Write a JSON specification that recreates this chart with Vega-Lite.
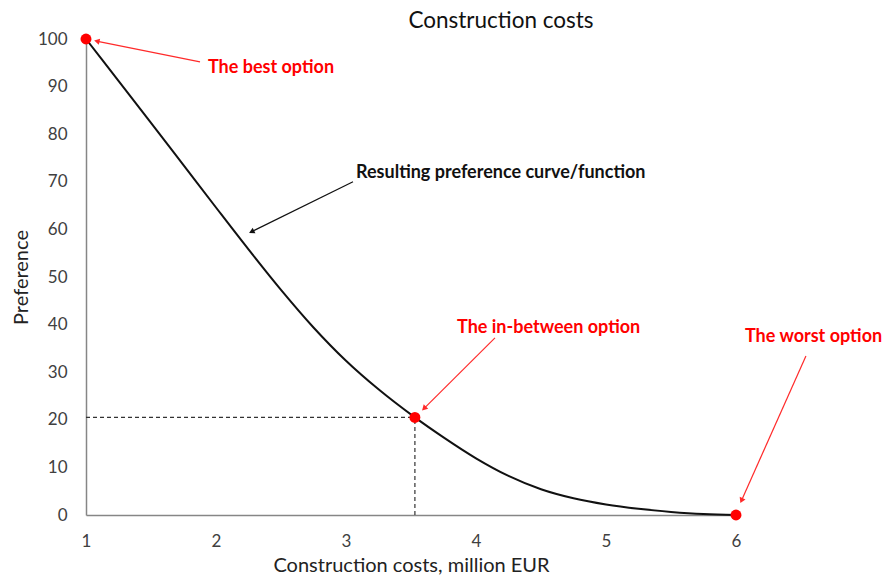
{
  "$schema": "https://vega.github.io/schema/vega-lite/v6.json",
  "autosize": "none",
  "width": 650,
  "height": 476,
  "padding": {"left": 86, "top": 39, "right": 151, "bottom": 64},
  "background": "white",
  "config": {
    "view": {"stroke": null},
    "font": "Lato",
    "axis": {"grid": false, "ticks": false, "domainColor": "#868686", "domainWidth": 1.5, "labelColor": "#404040", "labelFontSize": 17, "titleColor": "#222222", "titleFontSize": 20, "titleFontWeight": "normal", "labelFont": "Lato", "titleFont": "Lato", "labelFlush": false}
  },
  "title": {"text": "Construction costs", "fontSize": 22.5, "fontWeight": "normal", "color": "#111111", "anchor": "middle", "dx": 90, "offset": -2, "font": "Lato"},
  "datasets": {
    "curve": [
      {"cost": 1.0, "pref": 100},
      {"cost": 1.25, "pref": 91.2},
      {"cost": 1.5, "pref": 82.4},
      {"cost": 1.75, "pref": 73.5},
      {"cost": 2.0, "pref": 64.6},
      {"cost": 2.25, "pref": 55.8},
      {"cost": 2.5, "pref": 47.3},
      {"cost": 2.75, "pref": 39.4},
      {"cost": 3.0, "pref": 32.4},
      {"cost": 3.25, "pref": 26.4},
      {"cost": 3.53, "pref": 20.5},
      {"cost": 3.75, "pref": 16.3},
      {"cost": 4.0, "pref": 11.9},
      {"cost": 4.25, "pref": 8.2},
      {"cost": 4.5, "pref": 5.4},
      {"cost": 4.75, "pref": 3.5},
      {"cost": 5.0, "pref": 2.2},
      {"cost": 5.25, "pref": 1.3},
      {"cost": 5.5, "pref": 0.65},
      {"cost": 5.75, "pref": 0.2},
      {"cost": 6.0, "pref": 0}
    ],
    "guides": [
      {"x": 1, "y": 20.5, "x2": 3.53, "y2": 20.5},
      {"x": 3.53, "y": 0, "x2": 3.53, "y2": 20.5}
    ],
    "arrows": [
      {"x": 1.877, "y": 95.2, "x2": 1.09, "y2": 99.5, "color": "#ff2a2a", "angle": 282},
      {"x": 3.054, "y": 70.0, "x2": 2.28, "y2": 59.6, "color": "#111111", "angle": 244},
      {"x": 4.146, "y": 37.2, "x2": 3.605, "y2": 22.5, "color": "#ff2a2a", "angle": 225},
      {"x": 6.538, "y": 33.4, "x2": 6.045, "y2": 3.2, "color": "#ff2a2a", "angle": 204}
    ],
    "options": [
      {"cost": 1, "pref": 100},
      {"cost": 3.53, "pref": 20.5},
      {"cost": 6, "pref": 0}
    ],
    "labels": [
      {"x": 1.938, "y": 93.9, "text": "The best option", "color": "#ff0000"},
      {"x": 3.077, "y": 71.9, "text": "Resulting preference curve/function", "color": "#111111"},
      {"x": 3.854, "y": 39.3, "text": "The in-between option", "color": "#ff0000"},
      {"x": 6.069, "y": 37.4, "text": "The worst option", "color": "#ff0000"}
    ]
  },
  "layer": [
    {
      "data": {"name": "guides"},
      "mark": {"type": "rule", "strokeDash": [4, 3], "color": "#333333", "strokeWidth": 1.2},
      "encoding": {
        "x": {"field": "x", "type": "quantitative", "scale": {"domain": [1, 6], "nice": false}, "axis": {"values": [1, 2, 3, 4, 5, 6], "format": "d", "title": "Construction costs, million EUR", "labelPadding": 18, "titlePadding": 6}},
        "y": {"field": "y", "type": "quantitative", "scale": {"domain": [0, 100], "nice": false}, "axis": {"values": [0, 10, 20, 30, 40, 50, 60, 70, 80, 90, 100], "format": "d", "title": "Preference", "labelPadding": 19, "titlePadding": 6}},
        "x2": {"field": "x2"},
        "y2": {"field": "y2"}
      }
    },
    {
      "data": {"name": "curve"},
      "mark": {"type": "line", "interpolate": "monotone", "color": "#111111", "strokeWidth": 2},
      "encoding": {
        "x": {"field": "cost", "type": "quantitative"},
        "y": {"field": "pref", "type": "quantitative"}
      }
    },
    {
      "data": {"name": "arrows"},
      "mark": {"type": "rule", "strokeWidth": 1.2},
      "encoding": {
        "x": {"field": "x", "type": "quantitative"},
        "y": {"field": "y", "type": "quantitative"},
        "x2": {"field": "x2"},
        "y2": {"field": "y2"},
        "color": {"field": "color", "type": "nominal", "scale": null}
      }
    },
    {
      "data": {"name": "arrows"},
      "mark": {"type": "point", "shape": "triangle", "filled": true, "size": 40, "opacity": 1},
      "encoding": {
        "x": {"field": "x2", "type": "quantitative"},
        "y": {"field": "y2", "type": "quantitative"},
        "angle": {"field": "angle", "type": "quantitative", "scale": null},
        "color": {"field": "color", "type": "nominal", "scale": null}
      }
    },
    {
      "data": {"name": "options"},
      "mark": {"type": "circle", "size": 120, "color": "#ff0000", "opacity": 1},
      "encoding": {
        "x": {"field": "cost", "type": "quantitative"},
        "y": {"field": "pref", "type": "quantitative"}
      }
    },
    {
      "data": {"name": "labels"},
      "mark": {"type": "text", "align": "left", "baseline": "middle", "fontSize": 18, "fontWeight": "bold", "font": "Lato"},
      "encoding": {
        "x": {"field": "x", "type": "quantitative"},
        "y": {"field": "y", "type": "quantitative"},
        "text": {"field": "text"},
        "color": {"field": "color", "type": "nominal", "scale": null}
      }
    }
  ]
}
